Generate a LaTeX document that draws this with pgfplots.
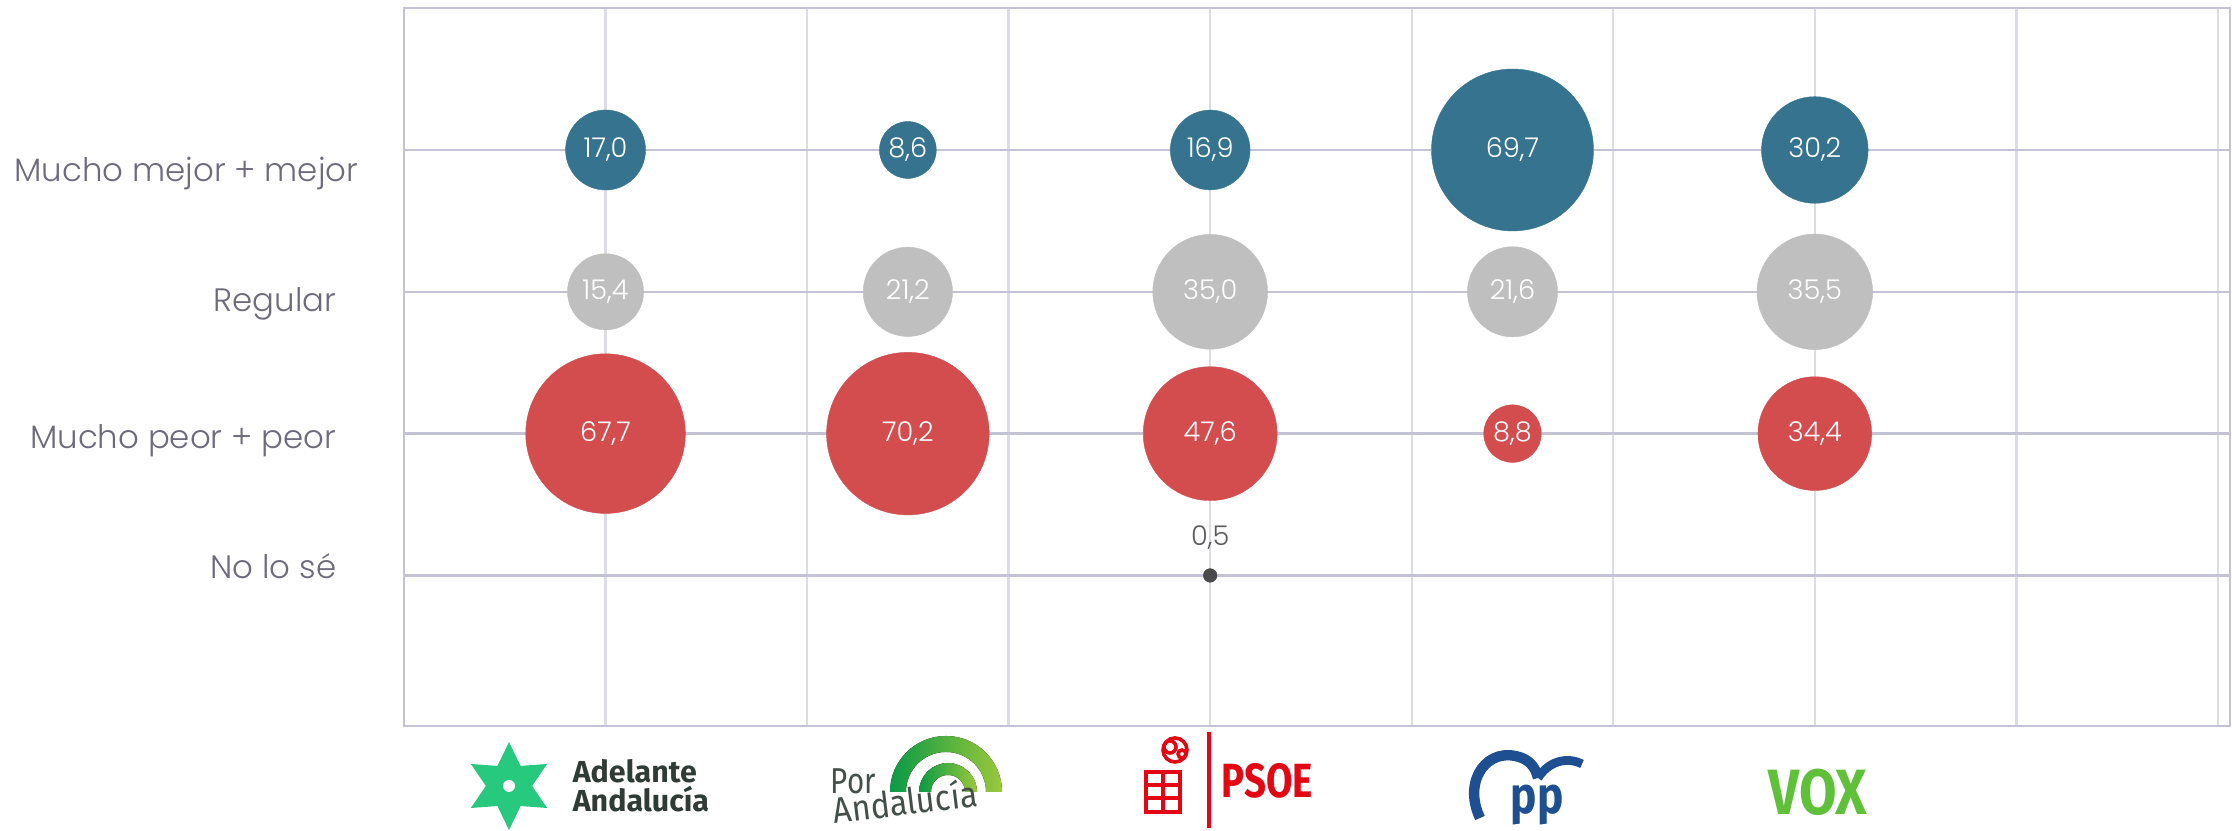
\documentclass[border=0pt]{standalone}
\usepackage{pgfplots}
\pgfplotsset{compat=1.18}
\usepackage{pgfplotstable}
\usepackage{fontspec}
\setmainfont{Poppins}[UprightFont=* Light]
\newfontfamily\logofont{Fira Sans}
\usetikzlibrary{shapes.geometric}

\definecolor{cblue}{HTML}{35738F}
\definecolor{cgray}{HTML}{BFBFBF}
\definecolor{cred}{HTML}{D34D4E}
\definecolor{cdark}{HTML}{4A4A4A}
\definecolor{gridv}{HTML}{DCDCE4}
\definecolor{gridh}{HTML}{C3C3D5}
\definecolor{labcol}{HTML}{6E6A7C}
\definecolor{aagreen}{HTML}{27C97F}
\definecolor{aatext}{HTML}{2F3B35}
\definecolor{pagreen}{HTML}{0A9A45}
\definecolor{palight}{HTML}{9BC83A}
\definecolor{psoered}{HTML}{E30613}
\definecolor{ppblue}{HTML}{1D4F91}
\definecolor{voxgreen}{HTML}{5FC13A}

% parties at x = 0, 1.5, 3, 4.5, 6; rows: 3 mejor, 2 regular, 1 peor, 0 no lo se
\pgfplotstableread{
x y v
0   3 17.0
1.5 3 8.6
3   3 16.9
4.5 3 69.7
6   3 30.2
}\mejor
\pgfplotstableread{
x y v
0   2 15.4
1.5 2 21.2
3   2 35.0
4.5 2 21.6
6   2 35.5
}\regular
\pgfplotstableread{
x y v
0   1 67.7
1.5 1 70.2
3   1 47.6
4.5 1 8.8
6   1 34.4
}\peor
\pgfplotstableread{
x y v
3 0 0.5
}\nolose

\newcommand\valfmt{\pgfmathprintnumber[fixed,fixed zerofill,precision=1,use comma,assume math mode=true]{\pgfplotspointmeta}}

\pgfplotsset{
  bubble/.style={scatter, only marks, mark=*, line width=0.1pt,
    scatter/use mapped color={draw=#1, fill=#1},
    visualization depends on={2.425*sqrt(\thisrow{v}) \as \bubr},
    scatter/@pre marker code/.append style={/tikz/mark size=\bubr pt}},
  vallabel/.style={draw=none, mark=none, point meta=explicit,
    nodes near coords={\valfmt},
    nodes near coords style={anchor=center, inner sep=0pt, text=#1,
      font=\fontsize{6.8}{8}\selectfont}},
}

\begin{document}
\begin{tikzpicture}
\useasboundingbox (0,0) rectangle (558pt,207.75pt);
\begin{axis}[
  name=ax, at={(101pt,26.3pt)}, anchor=south west,
  scale only axis, width=456.5pt, height=179.4pt,
  xmin=-1, xmax=8.06, ymin=-1.06, ymax=4,
  xtick={-1,...,8}, ytick={0,...,3},
  xticklabel={\vphantom{0}}, yticklabel={\vphantom{0}},
  major tick length=0pt,
  xmajorgrids, ymajorgrids,
  x grid style={color=gridv, line width=0.6pt},
  y grid style={color=gridh, line width=0.6pt},
  axis line style={color=gridh, line width=0.6pt},
  clip=false,
]
\addplot[bubble=cblue] table[x=x, y=y] {\mejor};
\addplot[bubble=cgray] table[x=x, y=y] {\regular};
\addplot[bubble=cred] table[x=x, y=y] {\peor};
\addplot[bubble=cdark] table[x=x, y=y] {\nolose};

\addplot[vallabel=white] table[x=x, y=y, meta=v] {\mejor};
\addplot[vallabel=white] table[x=x, y=y, meta=v] {\regular};
\addplot[vallabel=white] table[x=x, y=y, meta=v] {\peor};
\addplot[vallabel=cdark!90, nodes near coords style={anchor=base, yshift=7.5pt}] table[x=x, y=y, meta=v] {\nolose};
\end{axis}

% labels and logos, in reference pixel coordinates
\begin{scope}[x=0.25pt, y=-0.25pt, yshift=207.75pt]
  \begin{scope}[every node/.style={anchor=base east, inner sep=0pt, text=labcol, font=\fontsize{8.1}{10}\selectfont}]
    \node at (359,182) {Mucho mejor + mejor};
    \node at (337,312) {Regular};
    \node at (337,449) {Mucho peor + peor};
    \node at (337,579) {No lo sé};
  \end{scope}

  % Adelante Andalucia
  \node[star, star points=6, star point ratio=1.9, fill=aagreen, minimum size=22pt, inner sep=0pt] at (509,786) {};
  \fill[white] (509,786) circle[radius=6];
  \node[anchor=base west, inner sep=0pt, text=aatext, font=\logofont\bfseries\fontsize{7.6}{9}\selectfont] at (572,783) {Adelante};
  \node[anchor=base west, inner sep=0pt, text=aatext, font=\logofont\bfseries\fontsize{7.6}{9}\selectfont] at (572,812) {Andalucía};

  % Por Andalucia
  \fill[left color=pagreen, right color=palight] (890,792) arc[start angle=180, end angle=360, radius=56] -- (986,792) arc[start angle=360, end angle=180, radius=40] -- cycle;
  \fill[left color=pagreen, right color=palight] (919,792) arc[start angle=180, end angle=360, radius=29] -- (965,792) arc[start angle=360, end angle=180, radius=17] -- cycle;
  \node[anchor=base west, inner sep=0pt, text=aatext!90, font=\logofont\fontsize{9}{10}\selectfont] at (830,794) {\scalebox{0.82}[1]{Por}};
  \node[anchor=base west, inner sep=0pt, text=aatext!90, rotate=7, font=\logofont\fontsize{9}{10}\selectfont] at (834,824) {\scalebox{0.9}[1]{Andalucía}};

  % PSOE
  \begin{scope}[psoered, line width=0.9pt]
    \draw (1175,750) circle[radius=12];
    \draw (1170,747) circle[radius=6];
    \draw (1182,754) circle[radius=4];
    \draw (1146,772) rectangle (1180,812);
    \draw (1146,785) -- (1180,785);
    \draw (1146,798) -- (1180,798);
    \draw (1163,772) -- (1163,812);
  \end{scope}
  \draw[psoered, line width=1pt] (1209,732) -- (1209,828);
  \node[anchor=base west, inner sep=0pt, text=psoered, font=\logofont\bfseries\fontsize{12}{13}\selectfont] at (1221,798) {\scalebox{0.8}[1]{PSOE}};

  % PP
  \draw[ppblue, line width=2.6pt] (1480,818) .. controls (1462,780) and (1488,745) .. (1522,758) .. controls (1532,762) and (1536,770) .. (1538,778);
  \draw[ppblue, line width=2.2pt] (1538,778) .. controls (1548,762) and (1566,756) .. (1582,764);
  \node[anchor=base, inner sep=0pt, text=ppblue, font=\logofont\bfseries\fontsize{13}{14}\selectfont] at (1537,814) {\scalebox{0.85}[1]{pp}};

  % VOX
  \node[anchor=base, inner sep=0pt, text=voxgreen, font=\logofont\bfseries\fontsize{16}{17}\selectfont] at (1818,815) {\scalebox{0.85}[1]{VOX}};
\end{scope}
\end{tikzpicture}
\end{document}
